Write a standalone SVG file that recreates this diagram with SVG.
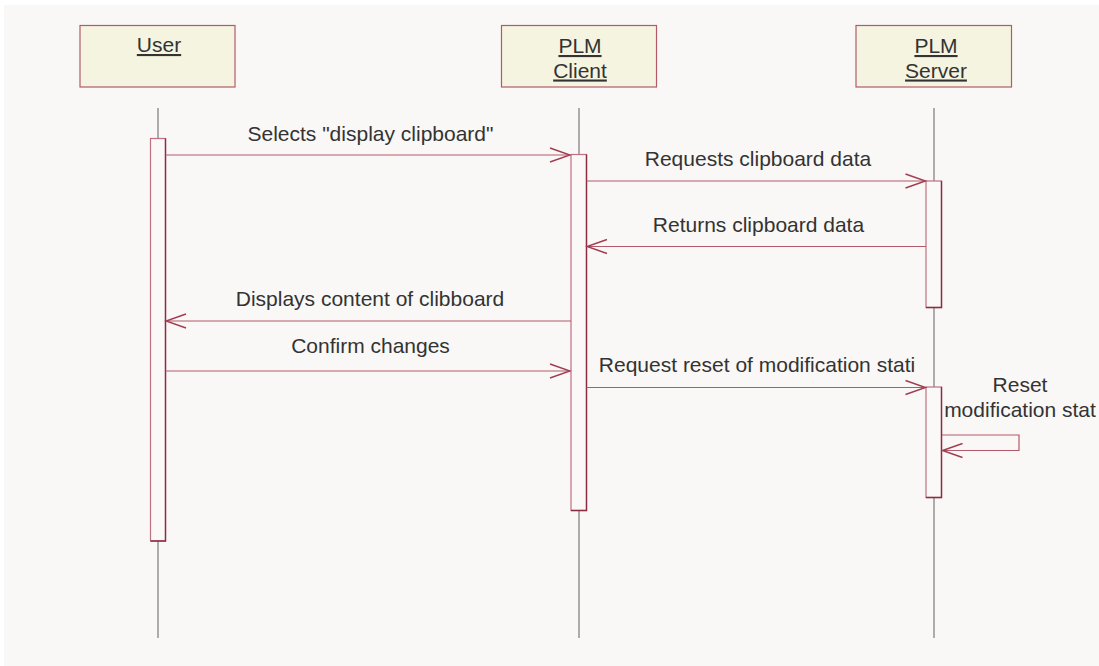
<svg xmlns="http://www.w3.org/2000/svg" width="1099" height="666" viewBox="0 0 1099 666">
<style>
.bg{fill:#f9f8f6}
.obj rect{fill:#f4f4e1;stroke:#b35a6a;stroke-width:1.2}
.obj text{font-family:"Liberation Sans",Arial,sans-serif;font-size:21px;fill:#333;text-anchor:middle;text-decoration:underline}
.life{stroke:#7a7a7a;stroke-width:1.2}
.act{fill:#faf9f7;stroke:#c07080;stroke-width:1.2}
.actd{stroke:#8c2c40;stroke-width:1.4;fill:none}
.msg{stroke:#b35a6a;stroke-width:1.2;fill:none}
.lbl{font-family:"Liberation Sans",Arial,sans-serif;font-size:21px;fill:#333;text-anchor:middle}
</style>
<defs>
<marker id="open" markerUnits="userSpaceOnUse" markerWidth="24" markerHeight="18" viewBox="-22 -9 24 18" refX="0" refY="0" orient="auto">
<path d="M-20,-7 L0,0 L-20,7" fill="none" stroke="#a23c50" stroke-width="1.4"/>
</marker>
</defs>
<rect x="0" y="0" width="1099" height="666" fill="#ffffff"/>
<rect class="bg" x="4" y="5" width="1095" height="661"/>

<g id="user" class="obj">
<rect x="80" y="25.5" width="155" height="61.5"/>
<line class="life" x1="158" y1="108" x2="158" y2="638"/>
<text x="159" y="52">User</text>
</g>
<g id="client" class="obj">
<rect x="501.5" y="25.5" width="155" height="61.5"/>
<line class="life" x1="579" y1="108" x2="579" y2="638"/>
<text x="580" y="53">PLM</text>
<text x="580" y="77.5">Client</text>
</g>
<g id="server" class="obj">
<rect x="856" y="25.5" width="155.5" height="61.5"/>
<line class="life" x1="934" y1="108" x2="934" y2="638"/>
<text x="936" y="53">PLM</text>
<text x="936" y="77.5">Server</text>
</g>

<g id="activations">
<rect class="act" x="150.5" y="138.5" width="15" height="402.5"/>
<path class="actd" d="M165.5,138.5 V541 H150.5"/>
<rect class="act" x="571" y="154.5" width="15.5" height="356"/>
<path class="actd" d="M586.5,154.5 V510.5 H571"/>
<rect class="act" x="926" y="181" width="15.5" height="126.5"/>
<path class="actd" d="M941.5,181 V307.5 H926"/>
<rect class="act" x="926" y="387" width="15.5" height="110.5"/>
<path class="actd" d="M941.5,387 V497.5 H926"/>
</g>

<g id="connectors">
<line class="msg" x1="165.5" y1="155" x2="570" y2="155" marker-end="url(#open)"/>
<line class="msg" x1="586.5" y1="181" x2="925.5" y2="181" marker-end="url(#open)"/>
<line class="msg" x1="926" y1="246.5" x2="587" y2="246.5" marker-end="url(#open)"/>
<line class="msg" x1="571" y1="321" x2="166" y2="321" marker-end="url(#open)"/>
<line class="msg" x1="165.5" y1="371" x2="570" y2="371" marker-end="url(#open)"/>
<line class="msg" x1="586.5" y1="387.5" x2="925.5" y2="387.5" marker-end="url(#open)"/>
<polyline class="msg" points="942,435 1019,435 1019,450.5 942.5,450.5" marker-end="url(#open)"/>
</g>

<g id="labels">
<text class="lbl" x="370.5" y="141">Selects "display clipboard"</text>
<text class="lbl" x="758" y="166">Requests clipboard data</text>
<text class="lbl" x="758.5" y="231.5">Returns clipboard data</text>
<text class="lbl" x="370" y="306">Displays content of clibboard</text>
<text class="lbl" x="370.5" y="353">Confirm changes</text>
<text class="lbl" x="757" y="371.5">Request reset of modification stati</text>
<text class="lbl" x="1020" y="392">Reset</text>
<text class="lbl" x="1020" y="417">modification stat</text>
</g>
</svg>
